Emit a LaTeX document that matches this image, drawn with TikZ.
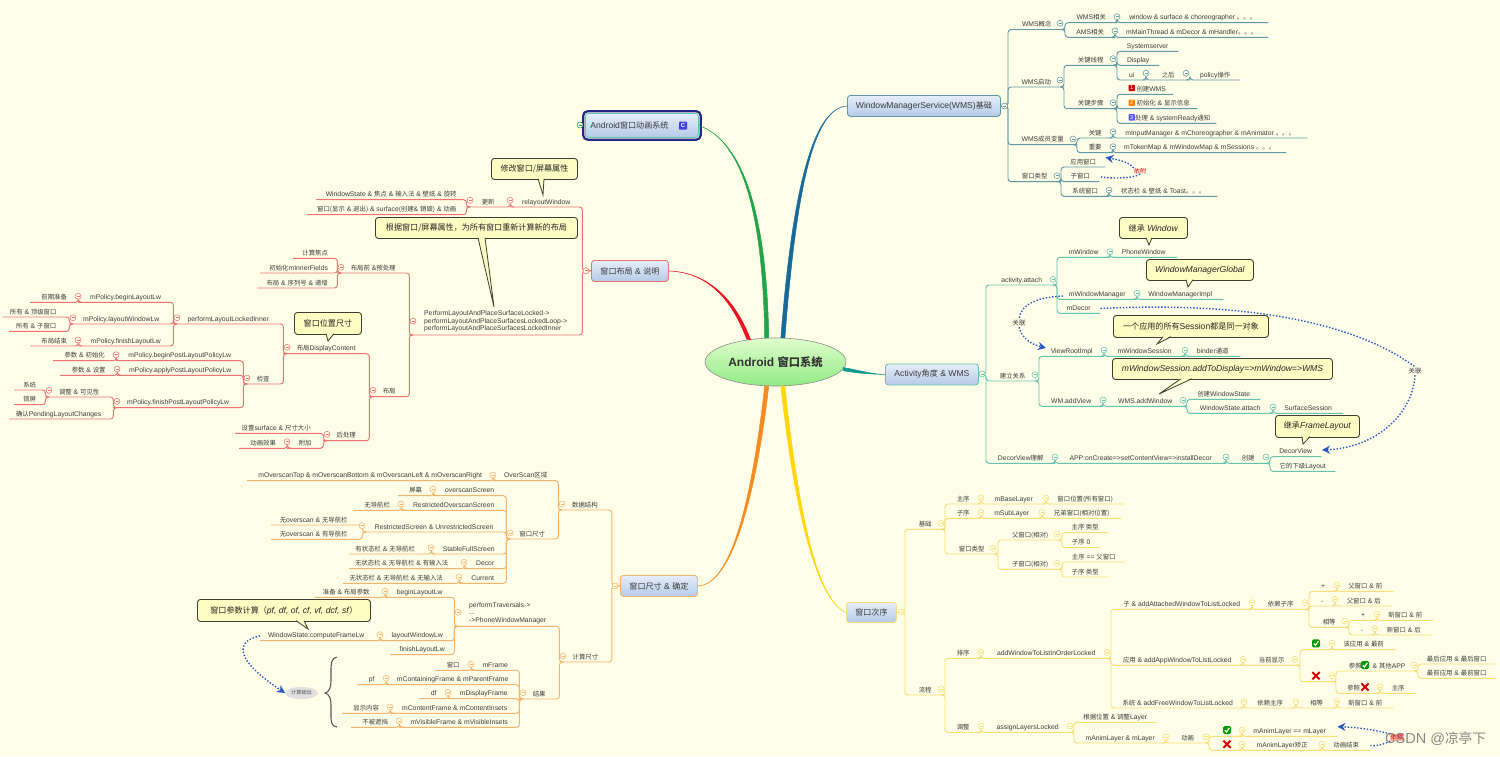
\documentclass[tikz,border=0pt]{standalone}
\usepackage{fontspec}
\setmainfont{Liberation Sans}
\newfontfamily\cjk[Scale=0.94]{Noto Sans CJK SC}
\newcommand\z[1]{{\cjk #1}}
\usetikzlibrary{arrows.meta,calc,shapes.geometric}
\definecolor{paper}{HTML}{FEFEE8}
\definecolor{ink}{HTML}{3C3C3C}
\definecolor{wmsl}{HTML}{5F98A6}
\definecolor{actl}{HTML}{66C4AE}
\definecolor{ordl}{HTML}{F7DE78}
\definecolor{sizl}{HTML}{F5B46C}
\definecolor{layl}{HTML}{EE7272}
\definecolor{wmsc}{HTML}{17699A}
\definecolor{actc}{HTML}{0E9A90}
\definecolor{ordc}{HTML}{FFD60A}
\definecolor{sizc}{HTML}{F58A1F}
\definecolor{layc}{HTML}{EA1220}
\definecolor{anic}{HTML}{22A348}
\definecolor{relb}{HTML}{2A56C6}
\definecolor{calf}{HTML}{FDFCC2}
\definecolor{call}{HTML}{3E3E32}
\definecolor{boxT}{HTML}{E6EEF8}
\definecolor{boxB}{HTML}{B4CAE8}
\colorlet{bc}{wmsl}
\tikzset{
  topic/.style={font=\fontsize{6.8}{8.2}\selectfont,text=ink,inner xsep=0pt,inner ysep=1pt,text height=5.6pt,text depth=1.6pt,anchor=south west},
  branch/.style={draw=bc,line width=.95pt,rounded corners=3pt},
  box/.style={rounded corners=3pt,top color=boxT,bottom color=boxB,draw=#1,line width=.9pt,font=\fontsize{8.6}{10}\selectfont,text=ink,inner sep=0pt,anchor=north west},
  callbox/.style={rounded corners=3pt,fill=calf,draw=call,line width=.9pt,font=\fontsize{8.6}{10}\selectfont,text=black!85,inner sep=0pt,anchor=north west},
  rel/.style={draw=relb,line width=1.4pt,dash pattern=on 1.4pt off 1.8pt},
  reltip/.style={-{Stealth[length=8pt,width=8pt,inset=2.5pt]}},
  rellabel/.style={font=\fontsize{7}{8}\selectfont,text=ink,inner sep=1pt},
  multi/.style={font=\fontsize{6.8}{7.6}\selectfont,text=ink,align=left,inner sep=0pt,anchor=west},
  tag/.style={font=\fontsize{5.5}{6}\selectfont,text=white,inner sep=0pt,minimum size=6.4pt,rounded corners=.8pt},
}
\newcommand\RT[6]{\node[topic,minimum width={(#4-#3)*1pt}] (#1) at (#3,#5) {#6};
  \draw[branch] ([xshift=-4pt]#2.south east) -| (#1.south west) -- (#1.south east);}
\newcommand\RF[6]{\node[topic,minimum width={(#4-#3)*1pt}] (#1) at (#3,#5) {#6};
  \draw[branch] (#2.east) -| (#1.south west) -- (#1.south east);}
\newcommand\LT[6]{\node[topic,minimum width={(#4-#3)*1pt}] (#1) at (#3,#5) {#6};
  \draw[branch] ([xshift=4pt]#2.south west) -| (#1.south east) -- (#1.south west);}
\newcommand\LF[6]{\node[topic,minimum width={(#4-#3)*1pt}] (#1) at (#3,#5) {#6};
  \draw[branch] (#2.west) -| (#1.south east) -- (#1.south west);}
\newcommand\C[2]{\filldraw[fill=paper,draw=bc,line width=.55pt] (#1,#2) circle (3pt);
  \draw[bc,line width=.55pt] ({#1-1.5},#2) -- ({#1+1.5},#2);}
\newcommand\Call[6]{\node[callbox,minimum width={(#3-#2)*1pt},minimum height={(#5-#4)*1pt}] (#1) at (#2,#4) {#6};}
\newcommand\Tail[5]{\fill[calf] (#2,{#1-1.2}) -- (#4,#5) -- (#3,{#1-1.2}) -- cycle;
  \draw[call,line width=.8pt] (#2,{#1-.3}) -- (#4,#5) -- (#3,{#1-.3});}
\newcommand\Main[6]{\filldraw[#1,line width=.5pt] ($(#2)-(#6)$) .. controls ($(#3)-(#6)$) and (#4) .. (#5) .. controls (#4) and ($(#3)+(#6)$) .. ($(#2)+(#6)$) -- cycle;}
\newcommand\Ok[2]{\fill[green!60!black,rounded corners=1.5pt] ({#1-4},{#2-4}) rectangle ({#1+4},{#2+4});
  \draw[white,line width=1.2pt] ({#1-2.2},{#2+.2}) -- ({#1-.6},{#2+2}) -- ({#1+2.4},{#2-2.2});}
\newcommand\No[2]{\draw[red!85!black,line width=1.9pt] ({#1-3.6},{#2-3.6}) -- ({#1+3.6},{#2+3.6}) ({#1-3.6},{#2+3.6}) -- ({#1+3.6},{#2-3.6});}
\begin{document}
\begin{tikzpicture}[x=1pt,y=-1pt]
\useasboundingbox (0,0) rectangle (1500,756);
\fill[paper] (0,0) rectangle (1500,756);
% central node and main boxes
\node[ellipse,minimum width=141pt,minimum height=48pt,inner sep=0pt,top color=green!12!paper,bottom color=green!38!paper!92!black,draw=black!45,line width=.6pt,font=\fontsize{12}{14}\selectfont\bfseries,text=black!80] (root) at (775.5,362) {Android {\cjk\bfseries 窗口系统}};
\node[box=wmsl,minimum width=153pt,minimum height=21pt] (wms) at (847,95) {WindowManagerService(WMS)\z{基础}};
\node[box=actl,minimum width=93pt,minimum height=21pt] (act) at (885,363.5) {Activity\z{角度} \& WMS};
\node[box=ordl,minimum width=50pt,minimum height=20pt] (ord) at (846,602) {\z{窗口次序}};
\node[box=sizl,minimum width=77pt,minimum height=21pt] (siz) at (620,575) {\z{窗口尺寸} \& \z{确定}};
\node[box=layl,minimum width=77pt,minimum height=21pt] (lay) at (591,260) {\z{窗口布局} \& \z{说明}};
\node[box=actl,minimum width=113pt,minimum height=24pt] (ani) at (585,113) {Android\z{窗口动画系统}\hspace*{25pt}};
\draw[line width=2.2pt,draw=blue!45!black!85,rounded corners=4.5pt] ([shift={(-1.8,1.8)}]ani.south west) rectangle ([shift={(1.8,-1.8)}]ani.north east);
\node[tag,fill=blue!70!white!85!black,font=\fontsize{6}{6}\selectfont\bfseries,minimum size=8pt] (anitag) at (683,125.7) {C};
\Main{wmsc}{root.73}{795,180}{815,108}{wms.west}{2,0}
\Main{anic}{root.110}{765,220}{745,142}{ani.east}{2,0}
\Main{layc}{root.140}{730,290}{700,272}{lay.east}{2,.4}
\Main{sizc}{root.250}{756,480}{735,585}{siz.east}{2,0}
\Main{ordc}{root.287}{795,500}{815,600}{ord.west}{2,0}
\Main{actc}{root.-6}{860,372}{870,374}{act.west}{0,1.6}
\colorlet{bc}{anic!70!teal}\C{580}{125}
% ---------- WMS ----------
\colorlet{bc}{wmsl}
\RF{wa}{wms}{1008}{1065}{29.5}{WMS\z{概念}}
\RT{wa1}{wa}{1065}{1117}{22.7}{WMS\z{相关}}
\RT{wa1a}{wa1}{1117}{1268}{22.7}{window \& surface \& choreographer \z{。。。}}
\RT{wa2}{wa}{1065}{1115}{37.3}{AMS\z{相关}}
\RT{wa2a}{wa2}{1115}{1268}{37.3}{mMainThread \& mDecor \& mHandler\z{。。。}}
\RF{wb}{wms}{1008}{1064}{87}{WMS\z{启动}}
\RT{wb1}{wb}{1064}{1117}{65.3}{\z{关键线程}}
\RT{wb1a}{wb1}{1117}{1178}{51.3}{Systemserver}
\RT{wb1b}{wb1}{1117}{1159}{65.3}{Display}
\RT{wb1c}{wb1}{1117}{1146}{80}{ui}
\RT{wb1d}{wb1c}{1146}{1190}{80}{\z{之后}}
\RT{wb1e}{wb1d}{1190}{1240}{80}{policy\z{操作}}
\RT{wb2}{wb}{1064}{1117}{108.7}{\z{关键步骤}}
\RT{wb2a}{wb2}{1117}{1173}{94.3}{\hspace*{12pt}\z{创建}WMS}
\RT{wb2b}{wb2}{1117}{1197}{108.7}{\hspace*{12pt}\z{初始化} \& \z{显示信息}}
\RT{wb2c}{wb2}{1117}{1216}{123.3}{\hspace*{12pt}\z{处理} \& systemReady\z{通知}}
\node[tag,fill=red!80!black] (t1) at (1131.7,88) {1};
\node[tag,fill=orange] (t2) at (1131.7,102.7) {2};
\node[tag,fill=blue!65!white] (t3) at (1131.7,117.3) {3};
\RF{wc}{wms}{1008}{1077}{144.7}{WMS\z{成员变量}}
\RT{wc1}{wc}{1077}{1113}{138}{\z{关键}}
\RT{wc1a}{wc1}{1113}{1307}{138}{mInputManager \& mChoreographer \& mAnimator \z{。。。}}
\RT{wc2}{wc}{1077}{1113}{152.7}{\z{重要}}
\RT{wc2a}{wc2}{1113}{1286}{152.7}{mTokenMap \& mWindowMap \& mSessions \z{。。。}}
\RF{wd}{wms}{1008}{1061}{181.7}{\z{窗口类型}}
\RT{wd1}{wd}{1061}{1105}{167}{\z{应用窗口}}
\RT{wd2}{wd}{1061}{1099}{181.7}{\z{子窗口}}
\RT{wd3}{wd}{1061}{1109}{196.3}{\z{系统窗口}}
\RT{wd3a}{wd3}{1109}{1217}{196.3}{\z{状态栏} \& \z{壁纸} \& Toast\z{。。。}}
\foreach \a/\b in {1004.5/106,1060/23.3,1117/16.7,1115/31,1060/80,1113/58.7,1146/73.3,1186/73.3,1113/102.7,1073/139,1113/131.7,1113/146.7,1057/175.7,1109/190}{\C{\a}{\b}}
\node[font=\fontsize{6.5}{7}\selectfont,text=red!85!black,inner sep=0pt] (yifu) at (1140,171) {\z{依附}};
\draw[rel,reltip] (yifu.north west) .. controls (1128,161) and (1116,159.5) .. (wd1.north east);
\draw[rel] (yifu.south) .. controls (1134,178) and (1118,179) .. (wd2.east);
% ---------- Activity ----------
\colorlet{bc}{actl}
\RF{aa}{act}{986}{1057}{285}{activity.attach}
\RT{aa1}{aa}{1057}{1110}{257.3}{mWindow}
\RT{aa1a}{aa1}{1110}{1177}{257.3}{PhoneWindow}
\RT{aa2}{aa}{1057}{1137}{299.3}{mWindowManager}
\RT{aa2a}{aa2}{1137}{1223}{299.3}{WindowManagerImpl}
\RT{aa3}{aa}{1057}{1100}{313.3}{mDecor}
\RF{ab}{act}{986}{1039}{381}{\z{建立关系}}
\RT{ab1}{ab}{1039}{1104}{356.3}{ViewRootImpl}
\RT{ab1a}{ab1}{1104}{1185}{356.3}{mWindowSession}
\RT{ab1b}{ab1a}{1185}{1240}{356.3}{binder\z{通道}}
\RT{ab2}{ab}{1039}{1103}{406.3}{WM.addView}
\RT{ab2a}{ab2}{1103}{1187}{406.3}{WMS.addWindow}
\RT{ab2b}{ab2a}{1187}{1260}{399.3}{\z{创建}WindowState}
\RT{ab2c}{ab2a}{1187}{1273}{413.3}{WindowState.attach}
\RT{ab2d}{ab2c}{1273}{1343}{413.3}{SurfaceSession}
\RF{ac}{act}{986}{1055}{463.3}{DecorView\z{理解}}
\RT{ac1}{ac}{1055}{1226}{463.3}{APP:onCreate=>setContentView=>installDecor}
\RT{ac2}{ac1}{1226}{1270}{463.3}{\z{创建}}
\RT{ac3}{ac2}{1270}{1321}{456.7}{DecorView}
\RT{ac4}{ac2}{1270}{1335}{471.3}{\z{它的下级}Layout}
\foreach \a/\b in {982/374,1053/279.3,1110/251.7,1137/293.3,1035/374.7,1104/350,1185/350.3,1103/400,1183/400.3,1273/407,1055/457,1226/457,1266/457}{\C{\a}{\b}}
\Call{ca}{1119}{1187}{217}{238}{\z{继承} \textit{Window}}
\Tail{238}{1146}{1152}{1149}{245}
\Call{cb}{1146}{1253}{259}{280}{\textit{WindowManagerGlobal}}
\Tail{280}{1186}{1193}{1188}{287}
\Call{cc}{1113}{1268}{315}{337}{\z{一个应用的所有}Session\z{都是同一对象}}
\Tail{337}{1163}{1171}{1157}{344}
\Call{cd}{1112}{1332}{358}{379}{\textit{mWindowSession.addToDisplay=>mWindow=>WMS}}
\Tail{379}{1181}{1192}{1159}{394}
\Call{ce}{1275}{1359}{415}{437}{\z{继承}\textit{FrameLayout}}
\Tail{437}{1302}{1310}{1303}{444}
\node[rellabel] (gl) at (1019,323) {\z{关联}};
\coordinate (gls) at (1063,296);
\coordinate (gle) at (1046,348);
\draw[rel] (gls) .. controls (1040,297) and (1021,303) .. (gl.north);
\draw[rel,reltip] (gl.south) .. controls (1022,338) and (1030,344) .. (gle);
\node[rellabel] (gr) at (1415,371) {\z{关联}};
\coordinate (gre) at (1322,450);
\draw[rel] (aa3.east) .. controls (1210,303) and (1340,312) .. (gr.north);
\draw[rel,reltip] (gr.south) .. controls (1412,418) and (1372,448) .. (gre);
% ---------- Order ----------
\colorlet{bc}{ordl}
\RF{oa}{ord}{905}{945}{529.3}{\z{基础}}
\RT{oa1}{oa}{945}{981}{504}{\z{主序}}
\RT{oa1a}{oa1}{981}{1046}{504}{mBaseLayer}
\RT{oa1b}{oa1a}{1046}{1124}{504}{\z{窗口位置(所有窗口)}}
\RT{oa2}{oa}{945}{981}{518.3}{\z{子序}}
\RT{oa2a}{oa2}{981}{1042}{518.3}{mSubLayer}
\RT{oa2b}{oa2a}{1042}{1121}{518.3}{\z{兄弟窗口(相对位置)}}
\RT{oa3}{oa}{945}{998}{554}{\z{窗口类型}}
\RT{oa4}{oa3}{998}{1062}{540}{\z{父窗口(相对)}}
\RT{oa4a}{oa4}{1062}{1108}{532.7}{\z{主序 类型}}
\RT{oa4b}{oa4}{1062}{1100}{547.7}{\z{子序} 0}
\RT{oa5}{oa3}{998}{1062}{569.3}{\z{子窗口(相对)}}
\RT{oa5a}{oa5}{1062}{1125}{562}{\z{主序} == \z{父窗口}}
\RT{oa5b}{oa5}{1062}{1108}{577}{\z{子序 类型}}
\RF{ob}{ord}{905}{945}{695}{\z{流程}}
\RT{ob1}{ob}{945}{981}{658.3}{\z{排序}}
\RT{ob2}{ob1}{981}{1111}{658.3}{addWindowToListInOrderLocked}
\RT{oc}{ob2}{1111}{1252}{609.3}{\z{子} \& addAttachedWindowToListLocked}
\RT{oc1}{oc}{1252}{1309}{609.3}{\z{依赖子序}}
\RT{oc2}{oc1}{1309}{1337}{591.3}{+}
\RT{oc2a}{oc2}{1337}{1393}{591.3}{\z{父窗口} \& \z{前}}
\RT{oc3}{oc1}{1309}{1335}{606}{-}
\RT{oc3a}{oc3}{1335}{1392}{606}{\z{父窗口} \& \z{后}}
\RT{oc4}{oc1}{1309}{1349}{627.3}{\z{相等}}
\RT{oc5}{oc4}{1349}{1377}{620.3}{+}
\RT{oc5a}{oc5}{1377}{1433}{620.3}{\z{新窗口} \& \z{前}}
\RT{oc6}{oc4}{1349}{1375}{635}{-}
\RT{oc6a}{oc6}{1375}{1432}{635}{\z{新窗口} \& \z{后}}
\RT{od}{ob2}{1111}{1243}{665.3}{\z{应用} \& addAppWindowToListLocked}
\RT{od1}{od}{1243}{1300}{665.3}{\z{当前显示}}
\RT{od2}{od1}{1300}{1332}{649.7}{}
\RT{od2a}{od2}{1332}{1395}{649.7}{\z{该应用} \& \z{最前}}
\RT{od3}{od1}{1300}{1336}{681.7}{}
\RT{od4}{od3}{1336}{1418}{671}{\z{参照}\hspace*{9pt} \& \z{其他}APP}
\RT{od4a}{od4}{1418}{1495}{664}{\z{最后应用} \& \z{最后窗口}}
\RT{od4b}{od4}{1418}{1495}{678.3}{\z{最前应用} \& \z{最前窗口}}
\RT{od5}{od3}{1336}{1380}{693.3}{\z{参照}\hspace*{9pt}}
\RT{od5a}{od5}{1380}{1416}{693.3}{\z{主序}}
\RT{oe}{ob2}{1111}{1244}{708}{\z{系统} \& addFreeWindowToListLocked}
\RT{oe1}{oe}{1244}{1296}{708}{\z{依赖主序}}
\RT{oe2}{oe1}{1296}{1337}{708}{\z{相等}}
\RT{oe3}{oe2}{1337}{1393}{708}{\z{新窗口} \& \z{前}}
\RT{of}{ob}{945}{981}{732.3}{\z{调整}}
\RT{of1}{of}{981}{1074}{732.3}{assignLayersLocked}
\RT{of2}{of1}{1074}{1156}{722.3}{\z{根据位置} \& \z{调整}Layer}
\RT{of3}{of1}{1074}{1166}{743}{mAnimLayer \& mLayer}
\RT{of4}{of3}{1166}{1209}{743}{\z{动画}}
\RT{of5}{of4}{1209}{1242}{736.3}{}
\RT{of5a}{of5}{1242}{1337}{736.3}{mAnimLayer == mLayer}
\RT{of6}{of4}{1209}{1242}{750.3}{}
\RT{of6a}{of6}{1242}{1322}{750.3}{mAnimLayer\z{矫正}}
\RT{of6b}{of6a}{1322}{1370}{750.3}{\z{动画结束}}
\foreach \a/\b in {901/612,941/523.3,981/498,1046/498,981/512.3,1042/512.3,993/548.3,1057/534,1057/563.3,941/689,981/652.3,1107/652.3,1252/602.7,1305/602.7,1337/585,1335/599.3,1345/621,1377/614,1375/628.7,1243/659.3,1295/659.3,1332/643.3,1332/675.7,1414/665,1380/687,1244/701.7,1296/701.7,1337/701.7,981/726,1070/726,1166/737,1206/736.7,1242/730,1242/744.3,1322/744.3}{\C{\a}{\b}}
\Ok{1316}{643.3}\No{1316}{675.7}\Ok{1365}{665}\No{1365}{687}\Ok{1227}{730}\No{1227}{744.3}
\node[font=\fontsize{6.5}{7}\selectfont,text=red!85!black,fill=red!30!paper,inner sep=.6pt] (dep) at (1397,737.5) {\z{依赖}};
\draw[rel,reltip] (dep.north west) .. controls (1372,729) and (1352,727) .. (of5a.north east);
\draw[rel] (dep.south west) .. controls (1383,745) and (1376,746) .. (of6b.east);
% ---------- Size ----------
\colorlet{bc}{sizl}
\LF{sa}{siz}{558}{611.5}{510}{\z{数据结构}}
\LT{sa1}{sa}{493}{558}{480.7}{OverScan\z{区域}}
\LT{sa1a}{sa1}{247}{493}{480.7}{mOverscanTop \& mOverscanBottom \& mOverscanLeft \& mOverscanRight}
\LT{sb}{sa}{506}{558}{539}{\z{窗口尺寸}}
\LT{sb1}{sb}{433}{506}{495.7}{overscanScreen}
\LT{sb1a}{sb1}{398}{433}{495.7}{\z{屏幕}}
\LT{sb2}{sb}{401}{506}{510.3}{RestrictedOverscanScreen}
\LT{sb2a}{sb2}{353}{401}{510.3}{\z{无导航栏}}
\LT{sb3}{sb}{362}{506}{532}{RestrictedScreen \& UnrestrictedScreen}
\LT{sb3a}{sb3}{271}{362}{525}{\z{无}overscan \& \z{无导航栏}\hspace*{6pt}}
\LT{sb3b}{sb3}{271}{362}{539.3}{\z{无}overscan \& \z{有导航栏}\hspace*{6pt}}
\LT{sb4}{sb}{431}{506}{554}{StableFullScreen}
\LT{sb4a}{sb4}{349}{431}{554}{\z{有状态栏} \& \z{无导航栏}\hspace*{10pt}}
\LT{sb5}{sb}{464}{506}{568.7}{Decor}
\LT{sb5a}{sb5}{349}{464}{568.7}{\z{无状态栏} \& \z{无导航栏} \& \z{有输入法}\hspace*{10pt}}
\LT{sb6}{sb}{459}{506}{583.3}{Current}
\LT{sb6a}{sb6}{343}{459}{583.3}{\z{无状态栏} \& \z{无导航栏} \& \z{无输入法}\hspace*{10pt}}
\LF{sc}{siz}{559}{611.5}{662}{\z{计算尺寸}}
\LT{sd}{sc}{454}{559}{626.3}{}
\node[multi] (sdt) at (469,613) {performTraversals->\\...\\->PhoneWindowManager};
\LT{sd1}{sd}{385}{454}{597.3}{beginLayoutLw}
\LT{sd1a}{sd1}{315}{385}{597.3}{\z{准备} \& \z{布局参数}\hspace*{8pt}}
\LT{sd2}{sd}{380}{454}{640.7}{layoutWindowLw}
\LT{sd2a}{sd2}{260}{380}{640.7}{WindowState:computeFrameLw\hspace*{8pt}}
\LT{sd3}{sd}{390}{454}{654.7}{finishLayoutLw}
\LT{se}{sc}{519}{559}{699}{\z{结果}}
\LT{se1}{se}{471}{519}{670.3}{mFrame}
\LT{se1a}{se1}{435}{471}{670.3}{\z{窗口}}
\LT{se2}{se}{386}{519}{684.7}{mContainingFrame \& mParentFrame}
\LT{se2a}{se2}{357}{386}{684.7}{pf}
\LT{se3}{se}{448}{519}{698.7}{mDisplayFrame}
\LT{se3a}{se3}{419}{448}{698.7}{df}
\LT{se4}{se}{390}{519}{713.3}{mContentFrame \& mContentInsets}
\LT{se4a}{se4}{342}{390}{713.3}{\z{显示内容}}
\LT{se5}{se}{399}{519}{727.3}{mVisibleFrame \& mVisibleInsets}
\LT{se5a}{se5}{351}{399}{727.3}{\z{不被遮挡}}
\foreach \a/\b in {615/586,562/504,493/475,510/533,433/489.3,401/504,362/525.7,431/547.7,464/562.3,459/577,563/656,458/612.3,385/591.3,380/634.7,523/692.7,471/664.3,386/678.3,448/692.3,390/707,399/721}{\C{\a}{\b}}
\Call{cf}{197}{370}{599}{621}{\z{窗口参数计算（}\textit{pf, df, of, cf, vf, dcf, sf}\z{）}}
\Tail{621}{296}{304}{308}{629}
\node[ellipse,fill=black!12,inner sep=0pt,minimum width=33pt,minimum height=12pt,font=\fontsize{5.5}{6}\selectfont,text=black!65] (out) at (301.5,693) {\z{计算输出}};
\coordinate (oute) at (285,693);
\draw[rel,reltip] (sd2a.west) .. controls (240,640) and (228,655) .. (oute);
\draw[black!65,line width=1.1pt] (337,657) .. controls (331,658) and (331,664) .. (331,672) -- (331,681) .. controls (331,688) and (329,692) .. (325,693) .. controls (329,694) and (331,698) .. (331,705) -- (331,714) .. controls (331,722) and (331,726) .. (337,727);
% ---------- Layout ----------
\colorlet{bc}{layl}
\LF{la}{lay}{510}{582}{207}{relayoutWindow}
\LT{la1}{la}{466}{510}{207}{\z{更新}}
\LT{la2}{la1}{316}{466}{199.7}{WindowState \& \z{焦点} \& \z{输入法} \& \z{壁纸} \& \z{旋转}}
\LT{la3}{la1}{307}{466}{214.7}{\z{窗口(显示} \& \z{退出)} \& surface\z{(创建}\& \z{销毁)} \& \z{动画}}
\LF{lb}{lay}{409}{582}{335}{}
\node[multi] (lbt) at (424,321.5) {PerformLayoutAndPlaceSurfaceLocked->\\performLayoutAndPlaceSurfacesLockedLoop->\\performLayoutAndPlaceSurfacesLockedInner};
\LT{lc}{lb}{337}{409}{273}{\z{布局前} \&\z{预处理}}
\LT{lc1}{lc}{293}{337}{258.3}{\z{计算焦点}}
\LT{lc2}{lc}{260}{337}{273}{\z{初始化}mInnerFields}
\LT{lc3}{lc}{257}{337}{288}{\z{布局} \& \z{序列号} \& \z{递增}}
\LT{ld}{lb}{369}{409}{396.7}{\z{布局}}
\LT{le}{ld}{283}{369}{353.7}{\z{布局}DisplayContent}
\LT{lf}{le}{173}{283}{324}{performLayoutLockedInner}
\LT{lf1}{lf}{78}{173}{302.3}{mPolicy.beginLayoutLw}
\LT{lf1a}{lf1}{30}{78}{302.3}{\z{前期准备}}
\LT{lf2}{lf}{69}{173}{324}{mPolicy.layoutWindowLw}
\LT{lf2a}{lf2}{3}{69}{317}{\z{所有} \& \z{顶级窗口}\hspace*{6pt}}
\LT{lf2b}{lf2}{9}{69}{331.3}{\z{所有} \& \z{子窗口}\hspace*{6pt}}
\LT{lf3}{lf}{78}{173}{346}{mPolicy.finishLayoutLw}
\LT{lf3a}{lf3}{30}{78}{346}{\z{布局结束}}
\LT{lg}{le}{243}{283}{384}{\z{检查}}
\LT{lg1}{lg}{116}{243}{360.7}{mPolicy.beginPostLayoutPolicyLw}
\LT{lg1a}{lg1}{53}{116}{360.7}{\z{参数} \& \z{初始化}}
\LT{lg2}{lg}{117}{243}{375.3}{mPolicy.applyPostLayoutPolicyLw}
\LT{lg2a}{lg2}{60}{117}{375.3}{\z{参数} \& \z{设置}}
\LT{lg3}{lg}{113}{243}{407.7}{mPolicy.finishPostLayoutPolicyLw}
\LT{lg4}{lg3}{45}{113}{397}{\z{调整} \& \z{可见性}}
\LT{lg4a}{lg4}{14}{45}{390}{\z{系统}}
\LT{lg4b}{lg4}{14}{45}{404.7}{\z{锁屏}}
\LT{lg5}{lg3}{9}{113}{419}{\z{确认}PendingLayoutChanges\hspace*{5pt}}
\LT{lh}{ld}{323}{369}{440.7}{\z{后处理}}
\LT{lh1}{lh}{235}{323}{433.3}{\z{设置}surface \& \z{尺寸大小}\hspace*{6pt}}
\LT{lh2}{lh}{287}{323}{448.3}{\z{附加}}
\LT{lh2a}{lh2}{239}{287}{448.3}{\z{动画效果}}
\foreach \a/\b in {586/270.7,510/200.3,470/200.3,413/321,341/267.3,373/390.3,287/347.3,177/317.7,78/296.3,73/317.7,78/340,247/378,116/354.7,117/369,117/401.3,49/390.3,327/434.3,287/441.7}{\C{\a}{\b}}
\Call{cg}{491}{577}{158}{179}{\z{修改窗口/屏幕属性}}
\Tail{179}{538}{544}{543}{195}
\Call{ch}{375}{577}{217}{238}{\z{根据窗口/屏幕属性，为所有窗口重新计算新的布局}}
\Tail{238}{478}{485}{494}{307}
\Call{ci}{294}{361}{312}{334}{\z{窗口位置尺寸}}
\Tail{334}{326}{334}{328}{341}
% watermark
\node[font=\fontsize{14.5}{16}\selectfont,text=black!55,opacity=.85,inner sep=0pt,anchor=west] (mark) at (1385,739) {CSDN @{\cjk 凉亭下}};
\end{tikzpicture}
\end{document}
